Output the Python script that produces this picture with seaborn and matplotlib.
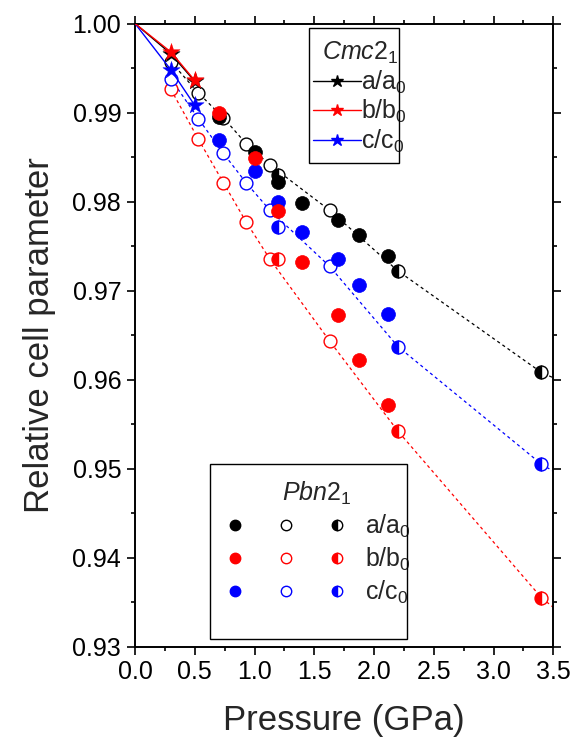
import matplotlib
matplotlib.use("Agg")
import matplotlib.pyplot as plt
import seaborn as sns
from matplotlib.lines import Line2D
from matplotlib.patches import Rectangle
from matplotlib.legend_handler import HandlerTuple
from matplotlib.ticker import MultipleLocator, FormatStrFormatter

sns.set_theme(style="ticks")
plt.rcParams["font.family"] = ["Liberation Sans", "DejaVu Sans"]
plt.rcParams["mathtext.fontset"] = "custom"
plt.rcParams["mathtext.rm"] = "Liberation Sans"
plt.rcParams["mathtext.it"] = "Liberation Sans:italic"
plt.rcParams["mathtext.default"] = "regular"

# ---------------- data ----------------
components = ["a", "b", "c"]
comp_labels = ["a/a$_0$", "b/b$_0$", "c/c$_0$"]
comp_colors = ["black", "red", "blue"]

# Cmc2_1 (stars, solid line from origin)
p_cmc = [0.0, 0.30, 0.50]
cmc_a = [1.0, 0.9966, 0.9935]
cmc_b = [1.0, 0.9968, 0.9936]
cmc_c = [1.0, 0.9948, 0.9908]

# Pbn2_1 filled circles
p_filled = [0.70, 1.00, 1.20, 1.40, 1.70, 1.87, 2.12]
filled_a = [0.9895, 0.9856, 0.9822, 0.9798, 0.9779, 0.9762, 0.9739]
filled_b = [0.9900, 0.9849, 0.9789, 0.9732, 0.9673, 0.9622, 0.9571]
filled_c = [0.9869, 0.9834, 0.9799, 0.9766, 0.9735, 0.9706, 0.9674]

# Pbn2_1 open circles
p_open = [0.30, 0.53, 0.74, 0.93, 1.13, 1.63]
open_a = [0.9957, 0.9922, 0.9894, 0.9865, 0.9841, 0.9790]
open_b = [0.9926, 0.9870, 0.9821, 0.9777, 0.9735, 0.9643]
open_c = [0.9938, 0.9893, 0.9854, 0.9821, 0.9790, 0.9727]

# Pbn2_1 half-filled circles
p_half = [1.20, 2.20, 3.40]
half_a = [0.9830, 0.9722, 0.9608]
half_b = [0.9735, 0.9542, 0.9355]
half_c = [0.9771, 0.9637, 0.9505]

# dashed fit curves
p_fit = [0.30, 0.53, 0.74, 0.93, 1.13, 1.63, 2.20, 3.40, 3.50]
fit_a = [0.9957, 0.9922, 0.9894, 0.9865, 0.9841, 0.9790, 0.9722, 0.9608, 0.9602]
fit_b = [0.9926, 0.9870, 0.9821, 0.9777, 0.9735, 0.9643, 0.9542, 0.9355, 0.9344]
fit_c = [0.9938, 0.9893, 0.9854, 0.9821, 0.9790, 0.9727, 0.9637, 0.9505, 0.9497]

x_ticks = [0.0, 0.5, 1.0, 1.5, 2.0, 2.5, 3.0, 3.5]
y_ticks = [0.93, 0.94, 0.95, 0.96, 0.97, 0.98, 0.99, 1.00]

cmc = [cmc_a, cmc_b, cmc_c]
filled = [filled_a, filled_b, filled_c]
opened = [open_a, open_b, open_c]
half = [half_a, half_b, half_c]
fits = [fit_a, fit_b, fit_c]

# ---------------- figure ----------------
fig = plt.figure(figsize=(5.76, 7.44), dpi=100)
ax = fig.add_axes([0.2344, 0.131, 0.7262, 0.8374])

for i, col in enumerate(comp_colors):
    sns.lineplot(x=p_fit, y=fits[i], ax=ax, color=col, lw=0.9,
                 linestyle=(0, (2.5, 2.5)), sort=False, estimator=None, zorder=2)

for i, col in enumerate(comp_colors):
    sns.scatterplot(x=p_open, y=opened[i], ax=ax, marker="o", s=85,
                    facecolor="white", edgecolor=col, linewidth=1.0, zorder=3)

for i, col in enumerate(comp_colors):
    ax.plot(p_half, half[i], linestyle="none", marker="o", markersize=9.3,
            fillstyle="left", markerfacecolor=col, markerfacecoloralt="white",
            markeredgecolor=col, markeredgewidth=1.0, zorder=4)

for i in [0, 2, 1]:
    col = comp_colors[i]
    sns.scatterplot(x=p_filled, y=filled[i], ax=ax, marker="o", s=100,
                    color=col, edgecolor=col, linewidth=0.5, zorder=5)

for i in [0, 2, 1]:
    col = comp_colors[i]
    sns.lineplot(x=p_cmc, y=cmc[i], ax=ax, color=col, lw=1.0,
                 sort=False, estimator=None, zorder=6)
    sns.scatterplot(x=p_cmc[1:], y=cmc[i][1:], ax=ax, marker="*", s=170,
                    color=col, edgecolor=col, linewidth=0.3, zorder=7)

ax.set_xlim(0, 3.5)
ax.set_ylim(0.93, 1.0)
ax.set_xticks(x_ticks)
ax.set_yticks(y_ticks)
ax.xaxis.set_minor_locator(MultipleLocator(0.25))
ax.yaxis.set_minor_locator(MultipleLocator(0.005))
ax.xaxis.set_major_formatter(FormatStrFormatter("%.1f"))
ax.yaxis.set_major_formatter(FormatStrFormatter("%.2f"))
ax.tick_params(which="both", direction="out", top=True, right=True,
               labelsize=18, width=1.2, colors="black", pad=4)
ax.tick_params(which="major", length=6)
ax.tick_params(which="minor", length=3)
for s in ax.spines.values():
    s.set_linewidth(1.4)
    s.set_color("black")

ax.set_xlabel("Pressure (GPa)", fontsize=25, labelpad=14)
ax.set_ylabel("Relative cell parameter", fontsize=25, labelpad=12)

# ---- Cmc2_1 legend ----
ax.add_patch(Rectangle((0.416, 0.776), 0.215, 0.217, transform=ax.transAxes,
                       fill=False, edgecolor="black", lw=1.0, zorder=8))
cmc_handles = [Line2D([], [], color=c, lw=1.0, marker="*", markersize=9)
               for c in comp_colors]
leg1 = ax.legend(cmc_handles, comp_labels, loc="upper left",
                 bbox_to_anchor=(0.402, 0.990), frameon=False, fontsize=18,
                 title="$\\mathit{Cmc}$2$_1$", title_fontsize=18,
                 handlelength=1.9, handletextpad=0.0, labelspacing=0.10,
                 borderaxespad=0.0)
ax.add_artist(leg1)

# ---- Pbn2_1 legend ----
ax.add_patch(Rectangle((0.179, 0.012), 0.471, 0.281, transform=ax.transAxes,
                       fill=False, edgecolor="black", lw=1.0, zorder=8))
pbn_handles = []
for c in comp_colors:
    h1 = Line2D([], [], linestyle="none", marker="o", markersize=7.5,
                color=c)
    h2 = Line2D([], [], linestyle="none", marker="o", markersize=7.5,
                markerfacecolor="white", markeredgecolor=c, markeredgewidth=1.0)
    h3 = Line2D([], [], linestyle="none", marker="o", markersize=7.5,
                fillstyle="left", markerfacecolor=c, markerfacecoloralt="white",
                markeredgecolor=c, markeredgewidth=1.0)
    pbn_handles.append((h1, h2, h3))
leg2 = ax.legend(pbn_handles, comp_labels, loc="upper left",
                 bbox_to_anchor=(0.185, 0.283), frameon=False, fontsize=18,
                 title="$\\mathit{Pbn}$2$_1$", title_fontsize=18,
                 handler_map={tuple: HandlerTuple(ndivide=None, pad=1.0)},
                 handlelength=5.1, handletextpad=0.6, labelspacing=0.22,
                 borderaxespad=0.0)

fig.savefig("out.png", dpi=100)
